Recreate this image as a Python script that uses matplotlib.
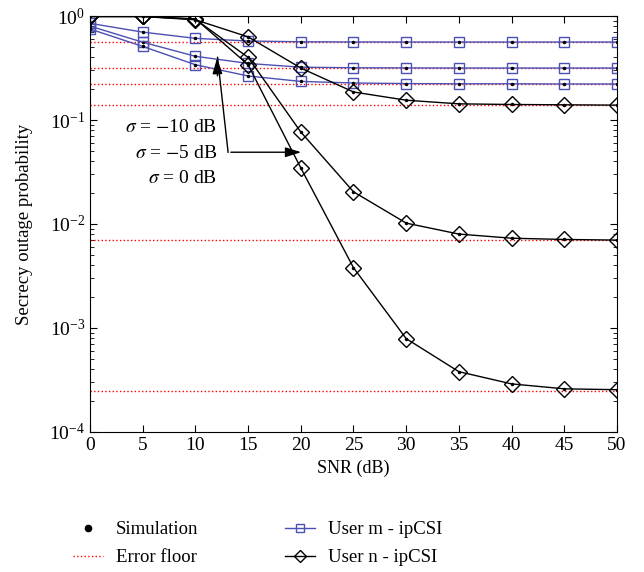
import numpy as np
import matplotlib
matplotlib.use("Agg")
import matplotlib.pyplot as plt

# data
snr = [0, 5, 10, 15, 20, 25, 30, 35, 40, 45, 50]

# user m - ipCSI (sigma = -10, -5, 0 dB)
user_m = [
    [0.85, 0.70, 0.61, 0.575, 0.565, 0.563, 0.562, 0.562, 0.562, 0.562, 0.562],
    [0.80, 0.56, 0.41, 0.35, 0.322, 0.318, 0.317, 0.316, 0.316, 0.316, 0.316],
    [0.75, 0.51, 0.34, 0.265, 0.235, 0.227, 0.224, 0.223, 0.223, 0.222, 0.222],
]
# user n - ipCSI (sigma = -10, -5, 0 dB)
user_n = [
    [0.99, 0.99, 0.92, 0.63, 0.316, 0.186, 0.155, 0.143, 0.141, 0.140, 0.139],
    [0.99, 0.99, 0.93, 0.40, 0.0767, 0.0204, 0.0102, 0.0080, 0.0073, 0.0071, 0.0070],
    [0.99, 0.99, 0.94, 0.34, 0.0346, 0.0038, 0.00079, 0.00038, 0.00029, 0.00026, 0.000255],
]
floors = [0.562, 0.316, 0.222, 0.139, 0.00702, 0.000248]
sigma_labels = [r"$\sigma$ = $-$10 dB", r"$\sigma$ = $-$5 dB", r"$\sigma$ = 0 dB"]

plt.rcParams['font.family'] = ['Liberation Serif', 'DejaVu Serif']
plt.rcParams['mathtext.fontset'] = 'stix'
plt.rcParams['font.size'] = 12

blue = '#4b50b4'

fig = plt.figure(figsize=(6.44, 5.72), dpi=100)
ax = fig.add_axes([0.1398, 0.2448, 0.8182, 0.7272])

for f in floors:
    ax.plot([snr[0], snr[-1]], [f, f], color='red', ls=':', lw=1.0)

for ys in user_m:
    ax.plot(snr, ys, color=blue, lw=1.0, marker='s', ms=7.5, mfc='none', mec=blue, mew=1.0)
    ax.plot(snr, ys, 'k.', ms=3)
for ys in user_n:
    ax.plot(snr, ys, color='black', lw=1.0, marker='D', ms=8, mfc='none', mec='black', mew=1.0)
    ax.plot(snr, ys, 'k.', ms=3)

# annotation
for i, s in enumerate(sigma_labels):
    ax.text(12.05, [0.085, 0.048, 0.0275][i], s, ha='right', va='center', fontsize=14)
ax.plot([13.1, 12.1], [0.049, 0.40], color='black', lw=1.0)
ax.annotate('', xy=(12.05, 0.42), xytext=(12.1, 0.25),
            arrowprops=dict(arrowstyle='-|>,head_length=0.8,head_width=0.25', color='black', lw=1.0))
ax.annotate('', xy=(20.3, 0.049), xytext=(13.1, 0.049),
            arrowprops=dict(arrowstyle='-|>,head_length=0.8,head_width=0.25', color='black', lw=1.0))

ax.set_yscale('log')
ax.set_xlim(0, 50)
ax.set_ylim(1e-4, 1)
ax.set_xticks(snr)
ax.tick_params(which='both', direction='in', top=True, right=True, labelsize=14)
ax.tick_params(which='major', length=5)
ax.tick_params(which='minor', length=3)
ax.set_xlabel('SNR (dB)', fontsize=13)
ax.set_ylabel('Secrecy outage probability', fontsize=13.5, labelpad=12)

h1, = ax.plot([], [], 'k.', ms=9, label='Simulation')
h2, = ax.plot([], [], color='red', ls=':', lw=1.0, label='Error floor')
h3, = ax.plot([], [], color=blue, lw=1.0, marker='s', ms=6, mfc='none', mec=blue, label='User m - ipCSI')
h4, = ax.plot([], [], color='black', lw=1.0, marker='D', ms=6, mfc='none', mec='black', label='User n - ipCSI')
fig.legend(handles=[h1, h2, h3, h4], ncol=2, loc='upper left', bbox_to_anchor=(73 / 644, 1 - 521 / 572),
           frameon=False, fontsize=13.5, columnspacing=4.6, handlelength=1.6, handletextpad=0.7,
           labelspacing=0.6, borderpad=0, borderaxespad=0)

fig.savefig('out.png', dpi=100)
